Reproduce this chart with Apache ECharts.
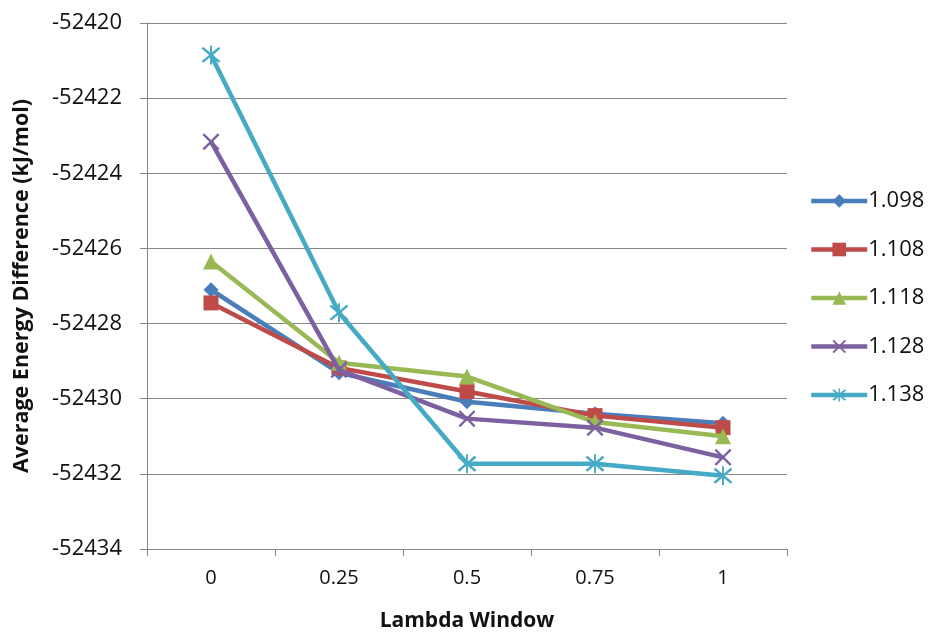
<!DOCTYPE html>
<html>
<head>
<meta charset="utf-8">
<script src="https://cdn.jsdelivr.net/npm/echarts@6/dist/echarts.min.js"></script>
<style>
  html, body { margin: 0; padding: 0; background: #fff; }
  #chart { width: 932px; height: 633px; }
</style>
</head>
<body>
<div id="chart"></div>
<script>
// Lambda windows along the x axis
const lambdaWindows = ['0', '0.25', '0.5', '0.75', '1'];

// Average energy difference (kJ/mol) per scaling factor
const s1098 = [-52427.10, -52429.31, -52430.08, -52430.40, -52430.65];
const s1108 = [-52427.45, -52429.18, -52429.81, -52430.45, -52430.77];
const s1118 = [-52426.35, -52429.04, -52429.41, -52430.62, -52431.00];
const s1128 = [-52423.16, -52429.23, -52430.53, -52430.77, -52431.56];
const s1138 = [-52420.85, -52427.71, -52431.73, -52431.73, -52432.05];

const seriesNames = ['1.098', '1.108', '1.118', '1.128', '1.138'];

// Y axis range and step
const yMin = -52434;
const yMax = -52420;
const yStep = 2;

const colors = ['#4A7EBB', '#BE4B48', '#98B954', '#7D60A0', '#46AAC5'];

// Thin X and asterisk glyphs for the last two series
const crossPath = 'path://M2,0 L10,8 L18,0 L20,2 L12,10 L20,18 L18,20 L10,12 L2,20 L0,18 L8,10 L0,2 Z';
const starPath = 'path://M2,0 L10,8 L18,0 L20,2 L12,10 L20,18 L18,20 L10,12 L2,20 L0,18 L8,10 L0,2 Z M9,-2 L11,-2 L11,22 L9,22 Z';

const symbols = ['diamond', 'rect', 'triangle', crossPath, starPath];
const symbolSizes = [15, 15, 16, 17, 19];
const values = [s1098, s1108, s1118, s1128, s1138];

const font = '"Open Sans", Lato, sans-serif';
const textColor = '#111111';

const chart = echarts.init(document.getElementById('chart'));

chart.setOption({
  backgroundColor: '#ffffff',
  animation: false,
  color: colors,
  grid: { left: 147, right: 145, top: 23, bottom: 84, outerBoundsMode: 'none', containLabel: false },
  legend: {
    orient: 'vertical',
    left: 804,
    top: 185,
    itemWidth: 56,
    itemHeight: 17,
    itemGap: 26.5,
    textStyle: { fontFamily: font, fontSize: 22, color: textColor, padding: [0, 0, 0, -4] },
    lineStyle: { width: 4.5 },
    data: seriesNames
  },
  xAxis: {
    type: 'category',
    data: lambdaWindows,
    boundaryGap: true,
    name: 'Lambda Window',
    nameLocation: 'middle',
    nameGap: 62,
    nameTextStyle: { fontFamily: font, fontSize: 21, fontWeight: 'bold', color: textColor },
    axisLine: { lineStyle: { color: '#868686', width: 1 } },
    axisTick: { show: true, length: 7, lineStyle: { color: '#868686' } },
    axisLabel: { fontFamily: font, fontSize: 20, color: textColor, margin: 19 },
    splitLine: { show: false }
  },
  yAxis: {
    type: 'value',
    min: yMin,
    max: yMax,
    interval: yStep,
    name: 'Average Energy Difference (kJ/mol)',
    nameLocation: 'middle',
    nameGap: 114,
    nameTextStyle: { fontFamily: font, fontSize: 21.5, fontWeight: 'bold', color: textColor },
    axisLine: { show: true, lineStyle: { color: '#868686', width: 1 } },
    axisTick: { show: true, length: 7, lineStyle: { color: '#868686' } },
    axisLabel: {
      fontFamily: font, fontSize: 22, color: textColor, margin: 25,
      formatter: (v) => String(v)
    },
    splitLine: { show: true, lineStyle: { color: '#868686', width: 1 } }
  },
  series: seriesNames.map((name, i) => ({
    name: name,
    type: 'line',
    data: values[i],
    symbol: symbols[i],
    symbolSize: symbolSizes[i],
    showAllSymbol: true,
    lineStyle: { width: 4.5, color: colors[i] },
    itemStyle: { color: colors[i] },
    z: 2 + i
  }))
});
</script>
</body>
</html>
